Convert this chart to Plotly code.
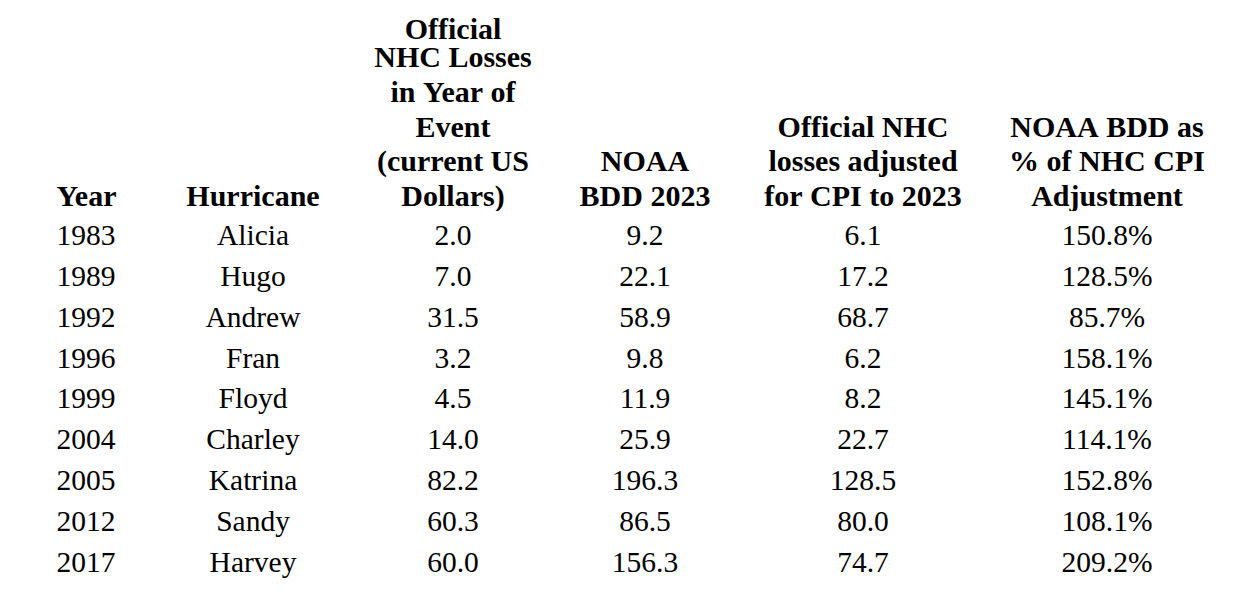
import plotly.graph_objects as go

years = [1983, 1989, 1992, 1996, 1999, 2004, 2005, 2012, 2017]
hurricanes = ["Alicia", "Hugo", "Andrew", "Fran", "Floyd", "Charley", "Katrina", "Sandy", "Harvey"]
nhc_current = [2.0, 7.0, 31.5, 3.2, 4.5, 14.0, 82.2, 60.3, 60.0]
noaa_bdd_2023 = [9.2, 22.1, 58.9, 9.8, 11.9, 25.9, 196.3, 86.5, 156.3]
nhc_cpi_2023 = [6.1, 17.2, 68.7, 6.2, 8.2, 22.7, 128.5, 80.0, 74.7]
bdd_pct_of_cpi = [150.8, 128.5, 85.7, 158.1, 145.1, 114.1, 152.8, 108.1, 209.2]

header_lines = [
    ["Year"],
    ["Hurricane"],
    ["Official", "NHC Losses", "in Year of", "Event", "(current US", "Dollars)"],
    ["NOAA", "BDD 2023"],
    ["Official NHC", "losses adjusted", "for CPI to 2023"],
    ["NOAA BDD as", "% of NHC CPI", "Adjustment"],
]

W, H = 1242, 607
font_family = "Liberation Serif, Times New Roman, serif"
col_widths = [110, 189, 211, 173, 263, 225]
align = ["left", "center", "center", "center", "center", "center"]
x_dom = [40.5 / W, (40.5 + sum(col_widths)) / W]
clear = "rgba(0,0,0,0)"

# header: one table row per line so each line is centred on its own,
# padded on top so every header sits on the bottom row.
# non-breaking spaces keep plotly from re-wrapping (and growing) the rows
n_lines = max(len(h) for h in header_lines)
head_cols = [[""] * (n_lines - len(h)) + [s.replace(" ", "\u00a0") for s in h] for h in header_lines]

body_cols = [
    [str(y) for y in years],
    hurricanes,
    [f"{v:.1f}" for v in nhc_current],
    [f"{v:.1f}" for v in noaa_bdd_2023],
    [f"{v:.1f}" for v in nhc_cpi_2023],
    [f"{v:.1f}%" for v in bdd_pct_of_cpi],
]

head_first_h = 28.5
head_row_h = 34.8
body_row_h = 40.8
head_bottom = head_first_h + (n_lines - 1) * head_row_h + 1
body_top = 207

head_font = dict(family=font_family, size=30, color="black", weight="bold")
body_font = dict(family=font_family, size=29.5, color="black")


def table(cols, dom_y, font, first_h, row_h):
    return go.Table(
        columnwidth=col_widths,
        domain=dict(x=x_dom, y=dom_y),
        header=dict(
            values=[c[0] for c in cols],
            align=align,
            font=font,
            fill_color=clear,
            line_color=clear,
            height=first_h,
        ),
        cells=dict(
            values=[c[1:] for c in cols],
            align=align,
            font=font,
            fill_color=clear,
            line_color=clear,
            height=row_h,
        ),
    )


fig = go.Figure()
fig.add_trace(table(head_cols, [1 - head_bottom / H, 1], head_font, head_first_h, head_row_h))
fig.add_trace(table(body_cols, [0, 1 - body_top / H], body_font, body_row_h, body_row_h))

fig.update_layout(
    width=W,
    height=H,
    margin=dict(l=0, r=0, t=0, b=0),
    paper_bgcolor="white",
    plot_bgcolor="white",
)

fig.write_html("out.html")
